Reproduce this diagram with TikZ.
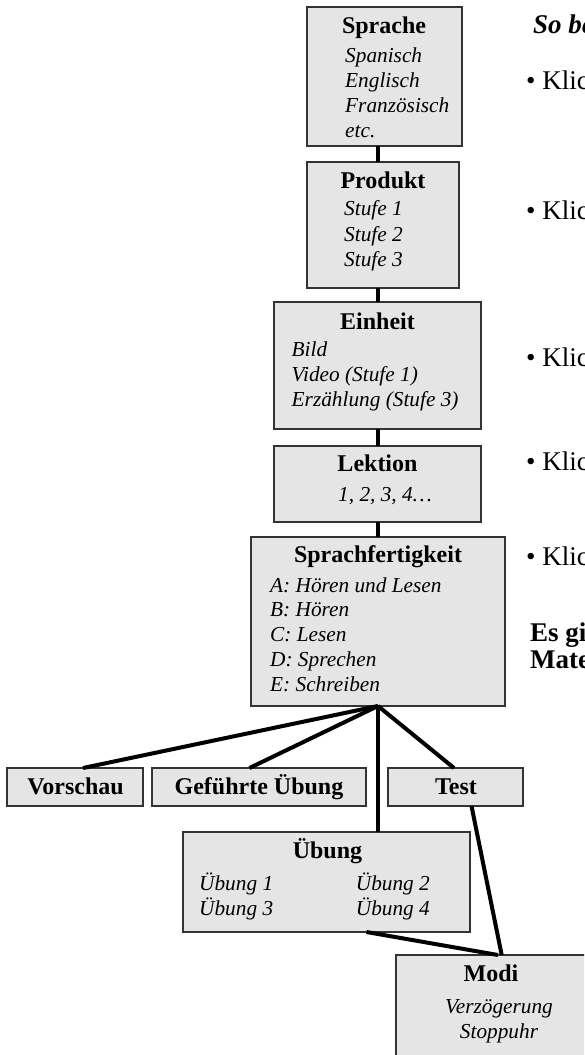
\documentclass[tikz,border=0pt]{standalone}
\usepackage{fontspec}
\setmainfont{Liberation Serif}
\usetikzlibrary{calc}
\begin{document}
\begin{tikzpicture}[x=1pt,y=-1pt,
  box/.style={draw=black!80, line width=1.3pt, fill=black!10, inner sep=0pt, outer sep=0pt},
  ttl/.style={font=\fontsize{24}{28}\selectfont\bfseries, anchor=base, inner sep=0pt},
  itm/.style={font=\fontsize{21.3}{25}\selectfont\itshape, anchor=base west, inner sep=0pt},
  itmc/.style={font=\fontsize{21.3}{25}\selectfont\itshape, anchor=base, inner sep=0pt},
  rt/.style={font=\fontsize{27}{30}\selectfont, anchor=base west, inner sep=0pt},
  rtb/.style={font=\fontsize{27}{30}\selectfont\bfseries, anchor=base west, inner sep=0pt},
  conn/.style={line width=4pt, black}]
\useasboundingbox (0,0) rectangle (584,1055);
\clip (0,0) rectangle (584,1055);

% boxes
\node[box, minimum width=155pt, minimum height=139pt] (sprache) at (384.5,76.5) {};
\node[box, minimum width=152pt, minimum height=126pt] (produkt) at (383,225) {};
\node[box, minimum width=207pt, minimum height=127pt] (einheit) at (377.5,365.5) {};
\node[box, minimum width=207pt, minimum height=76pt] (lektion) at (377.5,484) {};
\node[box, minimum width=254pt, minimum height=169pt] (sf) at (378,621.5) {};
\node[box, minimum width=136pt, minimum height=38pt] (vorschau) at (75,787) {};
\node[box, minimum width=214pt, minimum height=38pt] (gefuehrt) at (259,787) {};
\node[box, minimum width=135pt, minimum height=38pt] (test) at (455.5,787) {};
\node[box, minimum width=287pt, minimum height=100pt] (uebung) at (326.5,882) {};
\node[box, minimum width=204pt, minimum height=115pt] (modi) at (498,1012.5) {};

% connectors
\draw[conn] (sprache.south -| lektion.north) -- (produkt.north -| lektion.north);
\draw[conn] (produkt.south -| lektion.north) -- (einheit.north -| lektion.north);
\draw[conn] (einheit.south) -- (lektion.north);
\draw[conn] (lektion.south) -- (lektion.south |- sf.north);
\draw[conn] (sf.south) -- ($(vorschau.north)+(8,0)$);
\draw[conn] (sf.south) -- ($(gefuehrt.north)+(-9.5,0)$);
\draw[conn] (sf.south) -- (sf.south |- uebung.north);
\draw[conn] (sf.south) -- ($(test.north)+(-1.5,0)$);
\draw[conn] ($(uebung.south)+(40,0)$) -- (modi.north);
\draw[conn] ($(test.south)+(16,0)$) -- ($(modi.north)+(3.7,0)$);

% Sprache
\node[ttl] (t1) at (384,33) {Sprache};
\node[itm] (s1) at (345,62) {Spanisch};
\node[itm] (s2) at (345,87.2) {Englisch};
\node[itm] (s3) at (345,112.4) {Französisch};
\node[itm] (s4) at (345,137.6) {etc.};
% Produkt
\node[ttl] (t2) at (383,188) {Produkt};
\node[itm] (p1) at (344,215) {Stufe 1};
\node[itm] (p2) at (344,241) {Stufe 2};
\node[itm] (p3) at (344,266.5) {Stufe 3};
% Einheit
\node[ttl] (t3) at (377.5,329) {Einheit};
\node[itm] (e1) at (291.5,356.5) {Bild};
\node[itm] (e2) at (291.5,381.5) {Video (Stufe 1)};
\node[itm] (e3) at (291.5,406.7) {Erzählung (Stufe 3)};
% Lektion
\node[ttl] (t4) at (377.5,471.7) {Lektion};
\node[itm] (l1) at (338,501) {1, 2, 3, 4…};
% Sprachfertigkeit
\node[ttl] (t5) at (378,562.5) {Sprachfertigkeit};
\node[itm] (f1) at (270,592) {A: Hören und Lesen};
\node[itm] (f2) at (270,616.5) {B: Hören};
\node[itm] (f3) at (270,641) {C: Lesen};
\node[itm] (f4) at (270,666.3) {D: Sprechen};
\node[itm] (f5) at (270,691) {E: Schreiben};
% row
\node[ttl] (t6) at (75.5,794) {Vorschau};
\node[ttl] (t7) at (259,794) {Geführte Übung};
\node[ttl] (t8) at (456,794) {Test};
% Uebung
\node[ttl] (t9) at (327.5,858.3) {Übung};
\node[itm] (u1) at (199,890) {Übung 1};
\node[itm] (u3) at (199,915) {Übung 3};
\node[itm] (u2) at (355.7,890) {Übung 2};
\node[itm] (u4) at (355.7,915) {Übung 4};
% Modi
\node[ttl] (t10) at (491,981.7) {Modi};
\node[itmc] (m1) at (499,1013) {Verzögerung};
\node[itmc] (m2) at (499,1038) {Stoppuhr};

% right text
\node[font=\fontsize{27}{31}\selectfont\bfseries\itshape, anchor=base west, inner sep=0pt] (r0) at (533,33) {So be};
\node[rt] (r1) at (526,89.5) {• Klic};
\node[rt] (r2) at (526,219) {• Klic};
\node[rt] (r3) at (526,366) {• Klic};
\node[rt] (r4) at (526,470) {• Klic};
\node[rt] (r5) at (526,565) {• Klic};
\node[rtb] (r6) at (530,641) {Es gi};
\node[rtb] (r7) at (530,668) {Mate};
\end{tikzpicture}
\end{document}
